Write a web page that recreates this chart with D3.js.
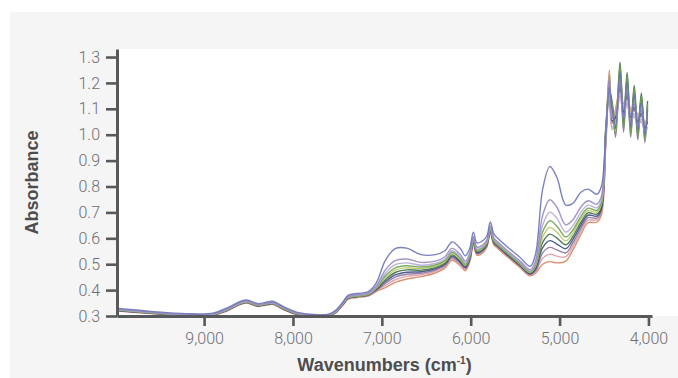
<!DOCTYPE html>
<html>
<head>
<meta charset="utf-8">
<script src="https://cdn.jsdelivr.net/npm/d3@7/dist/d3.min.js"></script>
<style>
  body { margin: 0; background: #ffffff; }
  svg { display: block; }
</style>
</head>
<body>
<svg id="chart" width="678" height="378"></svg>
<script>
// NIR absorbance spectra, wavenumber axis runs high -> low
const wavenumbers = [10000, 9600, 9200, 8900, 8750, 8600, 8520, 8400, 8300, 8230, 8100, 7950, 7600, 7520, 7430, 7380, 7150, 7060, 6960, 6850, 6720, 6560, 6400, 6290, 6210, 6120, 6060, 6010, 5970, 5930, 5880, 5820, 5780, 5740, 5700, 5600, 5450, 5330, 5270, 5190, 5110, 5030, 4930, 4850, 4760, 4680, 4580, 4530, 4480, 4440, 4410, 4370, 4320, 4280, 4240, 4200, 4160, 4120, 4080, 4040, 4010];

const sample01 = [.330, .318, .309, .311, .330, .355, .362, .348, .353, .357, .335, .314, .307, .322, .358, .380, .395, .430, .515, .560, .562, .537, .537, .552, .586, .562, .532, .562, .624, .582, .587, .607, .663, .617, .602, .570, .528, .492, .540, .790, .877, .835, .728, .735, .778, .790, .770, .800, 1.009, 1.184, 1.097, 1.034, 1.241, 1.054, 1.204, 1.034, 1.154, 1.020, 1.127, 1.002, 1.097];
const sample02 = [.327, .315, .306, .308, .326, .351, .358, .344, .349, .353, .331, .311, .305, .319, .354, .375, .389, .418, .478, .514, .520, .507, .512, .529, .561, .539, .512, .544, .607, .566, .571, .592, .648, .602, .588, .557, .514, .479, .514, .689, .749, .720, .652, .672, .721, .745, .732, .762, .988, 1.228, 1.064, 1.078, 1.202, 1.098, 1.168, 1.078, 1.118, 1.060, 1.094, 1.034, 1.064];
const sample03 = [.325, .314, .305, .307, .324, .349, .356, .343, .348, .351, .330, .310, .304, .317, .352, .373, .387, .413, .465, .498, .505, .496, .503, .520, .552, .530, .505, .537, .600, .559, .564, .587, .642, .597, .583, .552, .509, .474, .504, .651, .701, .677, .624, .649, .700, .728, .718, .747, .967, 1.195, 1.031, 1.045, 1.163, 1.065, 1.132, 1.045, 1.082, 1.030, 1.061, 1.010, 1.031];
const sample04 = [.324, .313, .304, .306, .323, .348, .355, .342, .347, .350, .329, .309, .303, .316, .351, .371, .385, .410, .455, .486, .494, .489, .497, .514, .546, .524, .500, .532, .596, .555, .560, .583, .638, .593, .579, .548, .505, .471, .497, .625, .668, .647, .605, .632, .685, .716, .708, .737, 1.023, 1.151, 1.119, 1.001, 1.267, 1.021, 1.228, 1.001, 1.178, .990, 1.149, .978, 1.119];
const sample05 = [.324, .312, .304, .306, .322, .347, .354, .341, .346, .349, .328, .308, .303, .316, .350, .370, .384, .408, .448, .477, .486, .483, .492, .509, .541, .519, .496, .529, .593, .552, .557, .580, .635, .590, .576, .546, .502, .468, .492, .604, .642, .624, .590, .620, .674, .707, .701, .730, .995, 1.239, 1.075, 1.089, 1.215, 1.109, 1.180, 1.089, 1.130, 1.070, 1.105, 1.042, 1.075];
const sample06 = [.323, .312, .303, .305, .321, .346, .353, .340, .345, .348, .327, .308, .302, .315, .349, .369, .383, .405, .440, .468, .478, .477, .487, .504, .536, .514, .492, .525, .589, .549, .554, .577, .632, .587, .574, .543, .500, .466, .487, .584, .616, .601, .575, .607, .662, .698, .693, .722, 1.030, 1.173, 1.130, 1.023, 1.280, 1.043, 1.240, 1.023, 1.190, 1.010, 1.160, .994, 1.130];
const sample07 = [.322, .311, .303, .305, .321, .346, .353, .339, .344, .348, .326, .307, .302, .314, .348, .368, .382, .403, .433, .459, .469, .471, .482, .500, .531, .510, .488, .521, .586, .545, .550, .574, .629, .584, .571, .540, .497, .463, .482, .564, .591, .578, .560, .595, .651, .689, .686, .714, .981, 1.217, 1.053, 1.067, 1.189, 1.087, 1.156, 1.067, 1.106, 1.050, 1.083, 1.026, 1.053];
const sample08 = [.322, .310, .302, .304, .320, .345, .352, .339, .344, .347, .326, .306, .301, .314, .347, .367, .381, .400, .426, .450, .461, .465, .477, .495, .526, .505, .484, .518, .582, .542, .547, .571, .626, .581, .568, .538, .494, .461, .476, .544, .565, .555, .544, .582, .639, .680, .678, .707, 1.016, 1.140, 1.108, .990, 1.254, 1.010, 1.216, .990, 1.166, .980, 1.138, .970, 1.108];
const sample09 = [.321, .310, .302, .304, .319, .344, .351, .338, .343, .346, .325, .306, .301, .313, .346, .366, .379, .398, .418, .440, .453, .459, .472, .490, .521, .500, .480, .514, .579, .539, .544, .568, .623, .578, .565, .535, .491, .458, .471, .523, .539, .531, .529, .569, .628, .670, .671, .699, .960, 1.206, 1.020, 1.056, 1.150, 1.076, 1.120, 1.056, 1.070, 1.040, 1.050, 1.018, 1.020];
const sample10 = [.320, .309, .301, .303, .318, .343, .350, .337, .342, .345, .324, .305, .300, .312, .345, .365, .378, .395, .410, .430, .443, .452, .466, .485, .515, .495, .475, .510, .575, .535, .540, .565, .620, .575, .562, .532, .488, .455, .465, .500, .510, .505, .512, .555, .615, .660, .662, .690, .974, 1.250, 1.042, 1.100, 1.176, 1.120, 1.144, 1.100, 1.094, 1.080, 1.072, 1.050, 1.042];

const sampleColors = ["#6c75b6", "#9a88c2", "#b4a8d6", "#6ea34f", "#b8c76a", "#3e6c47", "#3b4c7e", "#8b709f", "#d99ba6", "#d8845f"];

const yTicks = [0.3, 0.4, 0.5, 0.6, 0.7, 0.8, 0.9, 1.0, 1.1, 1.2, 1.3];
const xTicks = [9000, 8000, 7000, 6000, 5000, 4000];

const samples = [sample01, sample02, sample03, sample04, sample05, sample06, sample07, sample08, sample09, sample10];

const svg = d3.select("#chart");
const W = 678, H = 378;
const plot = { left: 117, right: 652, top: 49, bottom: 316 };

// outer panel and plotting area
svg.append("rect").attr("x", 10).attr("y", 12).attr("width", W - 10).attr("height", H - 12).attr("fill", "#f5f5f5");
svg.append("rect").attr("x", plot.left).attr("y", plot.top).attr("width", W - plot.left).attr("height", plot.bottom - plot.top).attr("fill", "#ffffff");

const x = d3.scaleLinear().domain([9980, 3960]).range([plot.left, plot.right]);
const y = d3.scaleLinear().domain([0.3, 1.331]).range([plot.bottom, plot.top]);

const defs = svg.append("defs");
defs.append("clipPath").attr("id", "plotClip")
  .append("rect").attr("x", plot.left + 1).attr("y", 0).attr("width", W - plot.left).attr("height", plot.bottom - 1);
defs.append("filter").attr("id", "soft").attr("x", "-5%").attr("y", "-5%").attr("width", "110%").attr("height", "110%")
  .append("feGaussianBlur").attr("stdDeviation", 0.45);

const line = d3.line()
  .x((d, i) => x(wavenumbers[i]))
  .y(d => y(d))
  .curve(d3.curveCatmullRom.alpha(0.5));

const lines = svg.append("g").attr("clip-path", "url(#plotClip)")
  .append("g").attr("filter", "url(#soft)");

// draw from the lowest trace up so the upper ones sit on top
const order = d3.range(samples.length).reverse();
lines.selectAll("path")
  .data(order)
  .join("path")
  .attr("d", i => line(samples[i]))
  .attr("fill", "none")
  .attr("stroke", i => sampleColors[i])
  .attr("stroke-width", 1.4)
  .attr("stroke-opacity", 0.9)
  .attr("stroke-linejoin", "round");

const axisColor = "#58595b";
const tickFont = "Roboto, 'Liberation Sans', sans-serif";

const yAxis = svg.append("g")
  .attr("transform", `translate(${plot.left},0)`)
  .call(d3.axisLeft(y).tickValues(yTicks).tickFormat(d3.format(".1f")).tickSize(11).tickSizeOuter(0).tickPadding(6));

const xAxis = svg.append("g")
  .attr("transform", `translate(0,${plot.bottom})`)
  .call(d3.axisBottom(x).tickValues(xTicks).tickFormat(d3.format(",")).tickSize(10).tickSizeOuter(0).tickPadding(7));

[yAxis, xAxis].forEach(g => {
  g.select(".domain").attr("stroke", axisColor).attr("stroke-width", 3);
  g.selectAll(".tick line").attr("stroke", axisColor).attr("stroke-width", 2.6);
  g.selectAll(".tick text")
    .attr("fill", "#6d6e71")
    .style("font-family", tickFont)
    .style("font-weight", 300)
    .style("font-size", "16px");
});

// axis titles
svg.append("text")
  .attr("transform", `translate(38,${(plot.top + plot.bottom) / 2}) rotate(-90)`)
  .attr("text-anchor", "middle")
  .attr("fill", "#4d4d4f")
  .style("font-family", "'Liberation Sans', Arial, sans-serif")
  .style("font-weight", "bold")
  .style("font-size", "18px")
  .text("Absorbance");

const xt = svg.append("text")
  .attr("x", (plot.left + plot.right) / 2)
  .attr("y", 371)
  .attr("text-anchor", "middle")
  .attr("fill", "#4d4d4f")
  .style("font-family", "'Liberation Sans', Arial, sans-serif")
  .style("font-weight", "bold")
  .style("font-size", "18px");
xt.append("tspan").text("Wavenumbers (cm");
xt.append("tspan").attr("dy", -7).style("font-size", "10px").text("-1");
xt.append("tspan").attr("dy", 7).text(")");
</script>
</body>
</html>
